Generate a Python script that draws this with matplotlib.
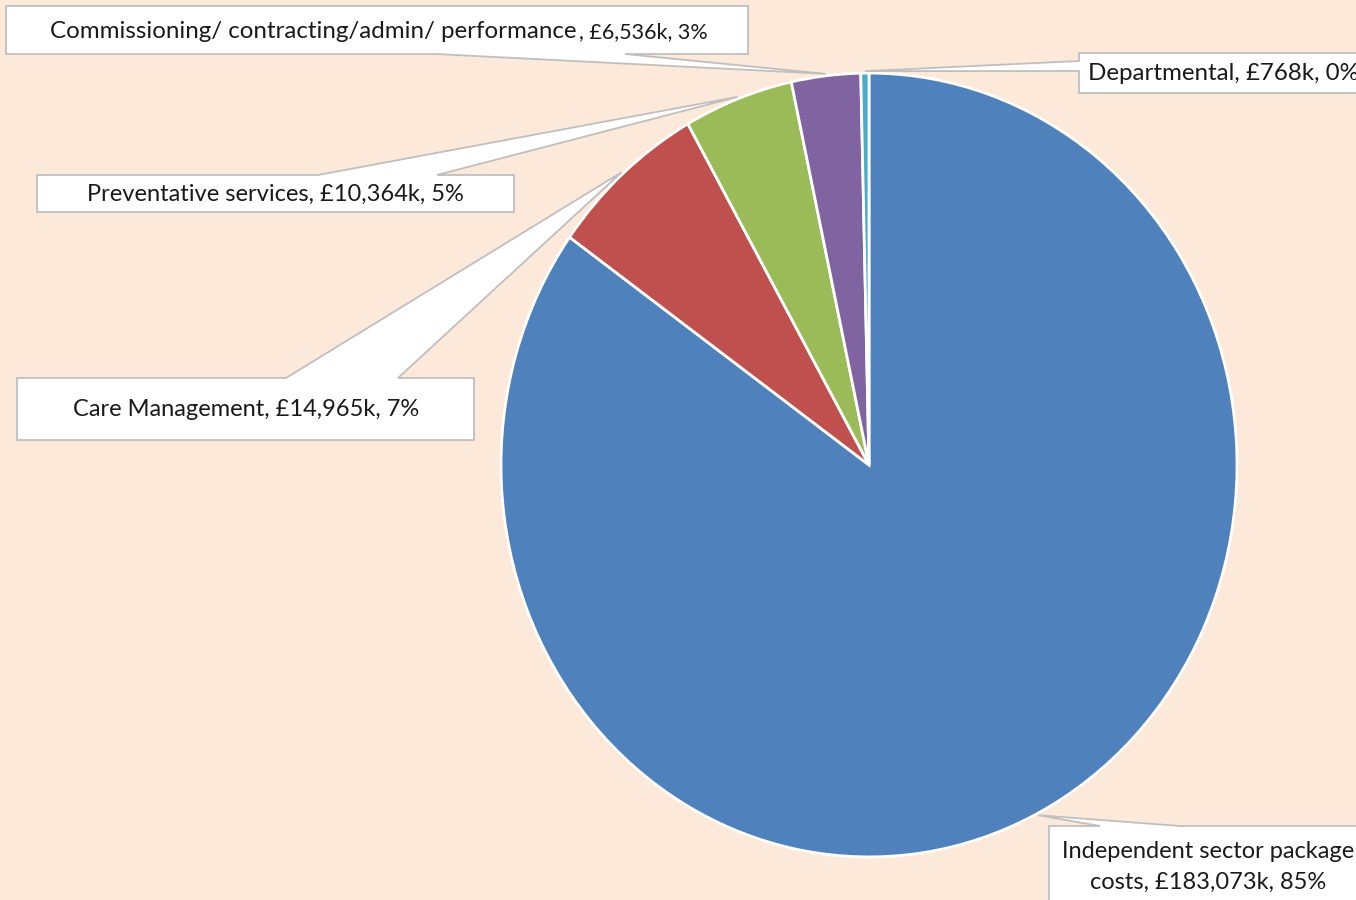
import textwrap
import matplotlib.pyplot as plt
from matplotlib.patches import Polygon
import numpy as np

# Data (£ thousands)
categories = [
    "Independent sector package costs",
    "Care Management",
    "Preventative services",
    "Commissioning/ contracting/admin/ performance",
    "Departmental",
]
values_k = [183073, 14965, 10364, 6536, 768]
colors = ["#4F81BD", "#C0504D", "#9BBB59", "#8064A2", "#4BACC6"]

total = sum(values_k)
pcts = [round(v / total * 100) for v in values_k]

W, H = 1356, 900
KY = 1.065  # the original pie is slightly stretched vertically
BG = "#FDE9D9"
plt.rcParams["font.family"] = ["Lato", "DejaVu Sans"]


def to_data(x, y):
    # pixel coords (y from top) -> data coords
    return x, (H - y) / KY


fig = plt.figure(figsize=(W / 100, H / 100), dpi=100, facecolor=BG)
ax = fig.add_axes([0, 0, 1, 1])
ax.set_facecolor(BG)

# pie, clockwise from 12 o'clock
cx, cy = to_data(869, 465)
r = 368
wedges, _ = ax.pie(
    values_k, colors=colors, startangle=90, counterclock=False,
    center=(cx, cy), radius=r, frame=True,
    wedgeprops=dict(edgecolor="white", linewidth=2),
)
ax.set_xlim(0, W)
ax.set_ylim(0, H / KY)
ax.set_aspect("auto")
ax.axis("off")

# callout boxes in pixel coords (y from top): box, edge with spike, spike base
callouts = [
    dict(box=(1049, 826, 1420, 960), edge="top", base=(1100, 1180)),
    dict(box=(17, 378, 474, 440), edge="top", base=(286, 398)),
    dict(box=(37, 175, 514, 212), edge="top", base=(318, 437)),
    dict(box=(6, 6, 748, 54), edge="bottom", base=(436, 625)),
    dict(box=(1079, 53, 1420, 93), edge="left", base=(61, 71)),
]


def callout_poly(box, edge, base, tip):
    x0, y0, x1, y1 = box
    a, b = base
    if edge == "top":
        pts = [(x0, y0), (a, y0), None, (b, y0), (x1, y0), (x1, y1), (x0, y1)]
    elif edge == "bottom":
        pts = [(x0, y0), (x1, y0), (x1, y1), (b, y1), None, (a, y1), (x0, y1)]
    else:
        pts = [(x0, y0), (x1, y0), (x1, y1), (x0, y1), (x0, b), None, (x0, a)]
    return [tip if p is None else to_data(*p) for p in pts]


for w, c in zip(wedges, callouts):
    mid = np.deg2rad((w.theta1 + w.theta2) / 2)
    tip = (cx + 1.005 * r * np.cos(mid), cy + 1.005 * r * np.sin(mid))
    poly = Polygon(callout_poly(c["box"], c["edge"], c["base"], tip), closed=True,
                   facecolor="white", edgecolor="#BFBFBF", linewidth=1.3, zorder=3)
    ax.add_patch(poly)

labels = [f"{cat}, £{v:,}k, {p}%" for cat, v, p in zip(categories, values_k, pcts)]
fs = 17
tc = "#1a1a1a"

ax.text(*to_data(1208, 867), textwrap.fill(labels[0], 26), ha="center", va="center",
        fontsize=fs, color=tc, linespacing=1.6, zorder=4)
ax.text(*to_data(246, 410), labels[1], ha="center", va="center", fontsize=fs, color=tc, zorder=4)
ax.text(*to_data(275, 194), labels[2], ha="center", va="center", fontsize=fs, color=tc, zorder=4)
ax.text(*to_data(577, 31), categories[3], ha="right", va="center", fontsize=17.4, color=tc, zorder=4)
ax.text(*to_data(579, 32), f", £{values_k[3]:,}k, {pcts[3]}%", ha="left", va="center",
        fontsize=15.5, color=tc, zorder=4)
ax.text(*to_data(1088, 74), labels[4], ha="left", va="center", fontsize=17.4, color=tc, zorder=4)

fig.savefig("out.png", dpi=100, facecolor=BG)
